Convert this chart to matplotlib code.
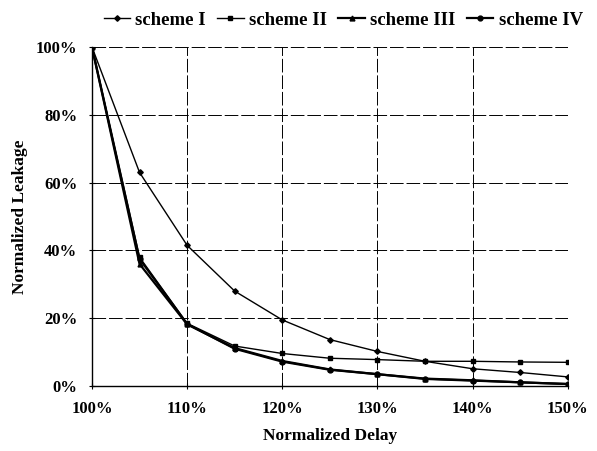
import matplotlib
matplotlib.use('Agg')
import matplotlib.pyplot as plt
from matplotlib.ticker import FuncFormatter

# normalized delay (%) and leakage (%) per scheme
delay = [100, 105, 110, 115, 120, 125, 130, 135, 140, 145, 150]
scheme_1 = [100, 63, 41.5, 28, 19.5, 13.7, 10.2, 7.3, 5.1, 4.0, 2.7]
scheme_2 = [100, 38, 18.5, 11.8, 9.6, 8.2, 7.8, 7.3, 7.3, 7.1, 7.0]
scheme_3 = [100, 36, 18.2, 11.2, 7.4, 4.9, 3.5, 2.2, 1.7, 1.1, 0.6]
scheme_4 = [100, 37.5, 18.3, 11.0, 7.2, 4.8, 3.5, 2.1, 1.6, 1.1, 0.6]
labels = ['scheme I', 'scheme II', 'scheme III', 'scheme IV']

plt.rcParams['font.family'] = ['Liberation Serif', 'DejaVu Serif']
plt.rcParams['font.weight'] = 'bold'

fig = plt.figure(figsize=(5.97, 4.51), dpi=100)
ax = fig.add_axes([0.154, 0.144, 0.797, 0.752])

ax.plot(delay, scheme_1, color='black', lw=1.0, marker='D', ms=2.8, label=labels[0])
ax.plot(delay, scheme_2, color='black', lw=1.0, marker='s', ms=3.2, label=labels[1])
ax.plot(delay, scheme_3, color='black', lw=1.6, marker='^', ms=3.5, label=labels[2])
ax.plot(delay, scheme_4, color='black', lw=1.6, marker='o', ms=3.5, label=labels[3])

ax.set_xlim(100, 150)
ax.set_ylim(0, 100)
ax.set_xticks(range(100, 151, 10))
ax.set_yticks(range(0, 101, 20))
pct = FuncFormatter(lambda v, p: f'{v:.0f}%')
ax.xaxis.set_major_formatter(pct)
ax.yaxis.set_major_formatter(pct)
ax.tick_params(labelsize=12, direction='inout', length=5, width=0.8, pad=8)
for t in ax.get_xticklabels() + ax.get_yticklabels():
    t.set_fontweight('bold')

ax.grid(True, color='black', linestyle=(0, (14, 3)), linewidth=0.7)
ax.set_axisbelow(True)
for s in ['top', 'right']:
    ax.spines[s].set_visible(False)
ax.spines['left'].set_linewidth(1.0)
ax.spines['bottom'].set_linewidth(1.0)

ax.set_xlabel('Normalized Delay', fontsize=12.5, fontweight='bold', labelpad=8)
ax.set_ylabel('Normalized Leakage', fontsize=12.5, fontweight='bold', labelpad=6)

fig.legend(loc='upper center', bbox_to_anchor=(0.575, 1.012), ncol=4, frameon=False,
           handlelength=1.4, handletextpad=0.3, columnspacing=0.6,
           markerscale=1.0, prop={'weight': 'bold', 'size': 13.5})

fig.savefig('out.png', dpi=100)
